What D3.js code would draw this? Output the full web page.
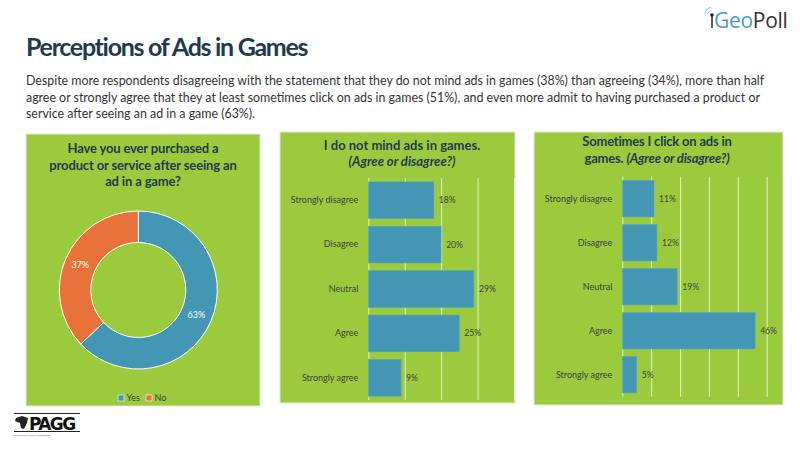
<!DOCTYPE html>
<html>
<head>
<meta charset="utf-8">
<script src="https://cdn.jsdelivr.net/npm/d3@7"></script>
<style>
  body { margin: 0; background: #fff; }
  svg { display: block; font-family: Lato, "Liberation Sans", sans-serif; }
</style>
</head>
<body>
<script>
const width = 800;
const height = 450;

// data
const purchaseLabels = ["Yes", "No"];
const purchaseValues = [0.63, 0.37];

const agreeCategories = ["Strongly disagree", "Disagree", "Neutral", "Agree", "Strongly agree"];
const mindAdsValues = [0.18, 0.20, 0.29, 0.25, 0.09];
const clickAdsValues = [0.11, 0.12, 0.19, 0.46, 0.05];

const mindTicks = [0, 0.1, 0.2, 0.3, 0.4];
const clickTicks = [0, 0.1, 0.2, 0.3, 0.4, 0.5];

const bodyLines = [
  "Despite more respondents disagreeing with the statement that they do not mind ads in games (38%) than agreeing (34%), more than half",
  "agree or strongly agree that they at least sometimes click on ads in games (51%), and even more admit to having purchased a product or",
  "service after seeing an ad in a game (63%)."
];

const green = "#9bcb3c";
const blue = "#4397b5";
const orange = "#e8723a";
const dark = "#1e3b4c";
const pct = d3.format(".0%");

const svg = d3.select("body")
  .append("svg")
  .attr("width", width)
  .attr("height", height);

// header
svg.append("text")
  .attr("x", 26).attr("y", 56)
  .attr("font-size", 25).attr("font-weight", "bold")
  .attr("letter-spacing", -1.3)
  .attr("fill", dark)
  .text("Perceptions of Ads in Games");

svg.append("g").selectAll("text")
  .data(bodyLines)
  .join("text")
  .attr("x", 26)
  .attr("y", (d, i) => 85 + i * 16.5)
  .attr("font-size", 12.4)
  .attr("fill", "#333")
  .text(d => d);

// GeoPoll logo
const logo = svg.append("g");
logo.append("line").attr("x1", 712).attr("y1", 16).attr("x2", 712).attr("y2", 28)
  .attr("stroke", "#222").attr("stroke-width", 1.5);
logo.append("circle").attr("cx", 712).attr("cy", 15).attr("r", 1.8).attr("fill", "#222");
[4, 7].forEach(r => logo.append("path")
  .attr("d", d3.arc()({innerRadius: r, outerRadius: r + 0.8, startAngle: -1.4, endAngle: -0.1}))
  .attr("transform", "translate(712,15)")
  .attr("fill", "#7fb3d5"));
logo.append("text").attr("x", 714).attr("y", 28).attr("font-size", 21)
  .attr("font-family", "'Open Sans', sans-serif")
  .attr("letter-spacing", -0.3)
  .call(t => {
    t.append("tspan").attr("fill", "#4a9ac8").text("Geo");
    t.append("tspan").attr("fill", "#333").text("Poll");
  });

// PAGG logo (rough)
const pagg = svg.append("g");
pagg.append("rect").attr("x", 14).attr("y", 413).attr("width", 66).attr("height", 1).attr("fill", "#222");
pagg.append("rect").attr("x", 14).attr("y", 431).attr("width", 66).attr("height", 1).attr("fill", "#222");
pagg.append("path").attr("d", "M16,418 L22,416 L28,418 L27,423 L24,429 L21,428 L20,423 L15,421 Z").attr("fill", "#222");
pagg.append("text").attr("x", 29).attr("y", 430).attr("font-size", 17).attr("font-weight", "bold")
  .attr("font-family", "'DejaVu Sans', sans-serif").attr("letter-spacing", -1.6)
  .attr("fill", "#111").text("PAGG");
pagg.append("text").attr("x", 14).attr("y", 436).attr("font-size", 2.5).attr("fill", "#444")
  .text("THE AFRICAN GAMING GROUP");

// panel backgrounds
function panel(x0, y0, x1, y1) {
  svg.append("rect")
    .attr("x", x0).attr("y", y0)
    .attr("width", x1 - x0).attr("height", y1 - y0)
    .attr("fill", green)
    .attr("stroke", "#e6e6e6").attr("stroke-width", 1);
}
panel(26, 134, 260, 406);
panel(280, 132, 515, 403);
panel(534, 132, 783, 405);

// donut
const donutTitle = ["Have you ever purchased a", "product or service after seeing an", "ad in a game?"];
svg.append("g").selectAll("text")
  .data(donutTitle)
  .join("text")
  .attr("x", 143)
  .attr("y", (d, i) => 153 + i * 16.7)
  .attr("text-anchor", "middle")
  .attr("font-size", 13).attr("font-weight", "bold")
  .attr("letter-spacing", -0.15)
  .attr("fill", dark)
  .text(d => d);

const pie = d3.pie().sort(null).value(d => d);
const arc = d3.arc().innerRadius(47.5).outerRadius(79);
const color = d3.scaleOrdinal().domain(purchaseLabels).range([blue, orange]);
const donut = svg.append("g").attr("transform", "translate(138.3,290)");
const arcs = pie(purchaseValues);
donut.selectAll("path")
  .data(arcs)
  .join("path")
  .attr("d", arc)
  .attr("fill", (d, i) => color(purchaseLabels[i]))
  .attr("stroke", "#fff").attr("stroke-width", 1);
donut.selectAll("text")
  .data(arcs)
  .join("text")
  .attr("transform", d => `translate(${arc.centroid(d)})`)
  .attr("text-anchor", "middle")
  .attr("dy", "0.35em")
  .attr("font-size", 9)
  .attr("fill", "#fff")
  .text(d => pct(d.data));

const legend = svg.append("g").selectAll("g")
  .data(purchaseLabels)
  .join("g")
  .attr("transform", (d, i) => `translate(${118 + i * 28},395)`);
legend.append("rect").attr("width", 6).attr("height", 6)
  .attr("fill", d => color(d)).attr("stroke", "#fff").attr("stroke-width", 0.6);
legend.append("text").attr("x", 8.5).attr("y", 6.2)
  .attr("font-size", 9).attr("fill", "#404040")
  .text(d => d);

// bar charts
function barChart(opts) {
  const g = svg.append("g");
  const x = d3.scaleLinear().domain(opts.domain).range([opts.x0, opts.x1]);
  const y = d3.scaleBand().domain(agreeCategories)
    .range([opts.y0, opts.y1]).paddingInner(0.17).paddingOuter(0.085);

  g.append("g")
    .attr("transform", `translate(0,${opts.y1})`)
    .call(d3.axisBottom(x).tickValues(opts.ticks).tickSize(-(opts.y1 - opts.y0)).tickFormat(""))
    .call(a => a.select(".domain").remove())
    .call(a => a.selectAll(".tick line").attr("stroke", "#fff").attr("stroke-opacity", 0.7).attr("stroke-width", 1));

  g.selectAll("rect.bar")
    .data(opts.values)
    .join("rect")
    .attr("class", "bar")
    .attr("x", x(0))
    .attr("y", (d, i) => y(agreeCategories[i]))
    .attr("width", d => x(d) - x(0))
    .attr("height", y.bandwidth())
    .attr("fill", blue)
    .attr("stroke", "#5aa7c2").attr("stroke-width", 0.5);

  g.selectAll("text.val")
    .data(opts.values)
    .join("text")
    .attr("class", "val")
    .attr("x", d => x(d) + 5)
    .attr("y", (d, i) => y(agreeCategories[i]) + y.bandwidth() / 2)
    .attr("dy", "0.35em")
    .attr("font-size", 8.6)
    .attr("fill", "#404040")
    .text(d => pct(d));

  g.append("g")
    .attr("transform", `translate(${opts.x0 - 10},0)`)
    .call(d3.axisLeft(y).tickSize(0).tickPadding(0))
    .call(a => a.select(".domain").remove())
    .call(a => a.selectAll("text").attr("font-size", 9).attr("fill", "#404040")
      .attr("font-family", "Lato, sans-serif"));
}

barChart({ domain: [0, 0.4], ticks: mindTicks, values: mindAdsValues,
  x0: 368.3, x1: 514, y0: 178, y1: 400 });
barChart({ domain: [0, 0.5], ticks: clickTicks, values: clickAdsValues,
  x0: 622.3, x1: 766.7, y0: 176.7, y1: 396.7 });

// bar chart titles
svg.append("text").attr("x", 402).attr("y", 150)
  .attr("text-anchor", "middle").attr("font-size", 13).attr("font-weight", "bold").attr("fill", dark)
  .text("I do not mind ads in games.");
svg.append("text").attr("x", 402).attr("y", 166)
  .attr("text-anchor", "middle").attr("font-size", 13).attr("font-weight", "bold")
  .attr("font-style", "italic").attr("fill", dark)
  .text("(Agree or disagree?)");

svg.append("text").attr("x", 657).attr("y", 146)
  .attr("text-anchor", "middle").attr("font-size", 13).attr("font-weight", "bold").attr("fill", dark)
  .attr("letter-spacing", -0.2)
  .text("Sometimes I click on ads in");
svg.append("text").attr("x", 657).attr("y", 163)
  .attr("text-anchor", "middle").attr("font-size", 13).attr("font-weight", "bold").attr("fill", dark)
  .attr("letter-spacing", -0.2)
  .call(t => {
    t.append("tspan").text("games. ");
    t.append("tspan").attr("font-style", "italic").text("(Agree or disagree?)");
  });
</script>
</body>
</html>
